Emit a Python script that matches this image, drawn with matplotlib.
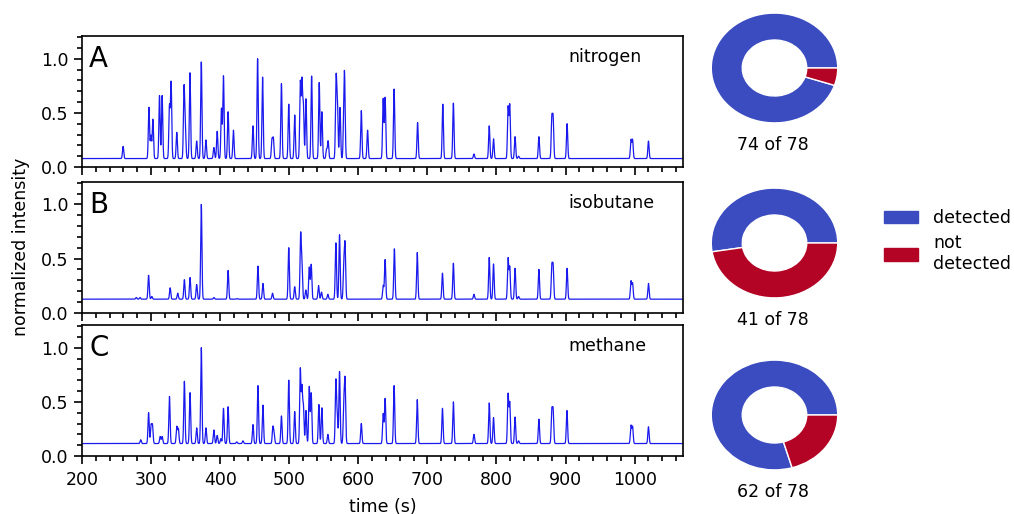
import numpy as np
import matplotlib
matplotlib.use('Agg')
import matplotlib.pyplot as plt
from matplotlib.patches import Patch
from matplotlib.ticker import MultipleLocator

# peak retention times (s) and apex heights
n2_times = [259.5, 296.9, 299.8, 302.6, 312.2, 316.0, 326.6, 329.0, 337.2, 347.7,
            349.6, 356.3, 366.0, 372.7, 379.4, 390.9, 395.7, 401.9, 404.8, 411.5,
            419.2, 447.5, 454.2, 461.4, 475.0, 477.0, 488.7, 499.3, 507.9, 516.0,
            518.4, 520.5, 524.2, 532.4, 543.4, 547.2, 554.0, 556.3, 567.8, 569.7,
            573.5, 579.0, 580.2, 604.3, 613.4, 636.0, 638.8, 651.8, 685.8, 722.3,
            737.6, 767.4, 789.5, 795.7, 816.8, 819.2, 826.9, 832.0, 861.4, 880.1,
            882.0, 902.2, 994.7, 997.0, 1020.0]
n2_apex = [0.19, 0.55, 0.29, 0.44, 0.66, 0.66, 0.56, 0.78, 0.32, 0.73,
           0.34, 0.87, 0.24, 0.97, 0.25, 0.18, 0.33, 0.54, 0.84, 0.51,
           0.34, 0.38, 1.00, 0.83, 0.25, 0.26, 0.77, 0.58, 0.48, 0.78,
           0.78, 0.55, 0.63, 0.84, 0.78, 0.51, 0.16, 0.24, 0.80, 0.58,
           0.55, 0.45, 0.70, 0.52, 0.34, 0.63, 0.64, 0.72, 0.41, 0.58,
           0.59, 0.12, 0.38, 0.26, 0.55, 0.57, 0.28, 0.10, 0.28, 0.44,
           0.44, 0.40, 0.25, 0.25, 0.24]
n2_base = 0.078

ib_times = [278.6, 284.0, 296.4, 301.0, 327.6, 338.6, 348.2, 356.4, 366.0, 372.7,
            391.0, 411.5, 424.7, 454.7, 461.9, 475.8, 499.3, 507.9, 516.5, 518.4,
            524.0, 529.0, 531.8, 542.4, 546.7, 555.9, 567.5, 572.8, 579.0, 580.8,
            636.0, 638.8, 652.2, 685.3, 721.8, 737.6, 767.4, 789.5, 795.7, 816.8,
            819.2, 826.9, 832.0, 861.4, 880.1, 882.0, 902.2, 994.7, 997.0, 1020.0]
ib_apex = [0.14, 0.14, 0.345, 0.15, 0.23, 0.18, 0.305, 0.325, 0.26, 1.00,
           0.14, 0.39, 0.13, 0.43, 0.27, 0.18, 0.60, 0.24, 0.71, 0.43,
           0.21, 0.42, 0.445, 0.25, 0.19, 0.17, 0.645, 0.72, 0.43, 0.615,
           0.25, 0.49, 0.59, 0.555, 0.365, 0.457, 0.17, 0.51, 0.45, 0.50,
           0.42, 0.41, 0.15, 0.40, 0.42, 0.42, 0.41, 0.29, 0.27, 0.27]
ib_base = 0.125

me_times = [285.0, 296.4, 300.0, 302.0, 313.2, 316.0, 326.6, 337.2, 339.5, 348.2,
            356.4, 366.0, 372.7, 379.4, 390.9, 395.7, 401.0, 404.8, 411.5, 424.0,
            433.0, 447.5, 454.7, 461.9, 476.3, 478.0, 488.7, 499.3, 507.9, 516.0,
            518.4, 520.5, 524.2, 529.0, 531.8, 542.9, 547.2, 555.9, 567.5, 569.5,
            572.8, 579.0, 580.8, 604.3, 636.0, 638.8, 651.8, 685.3, 721.8, 737.6,
            767.4, 789.5, 795.7, 816.8, 819.2, 826.9, 832.0, 861.4, 880.1, 882.0,
            902.0, 994.7, 997.0, 1020.0]
me_apex = [0.15, 0.40, 0.28, 0.28, 0.18, 0.18, 0.55, 0.27, 0.25, 0.69,
           0.585, 0.26, 1.00, 0.26, 0.24, 0.19, 0.16, 0.44, 0.455, 0.13,
           0.14, 0.29, 0.65, 0.47, 0.26, 0.20, 0.37, 0.70, 0.41, 0.80,
           0.62, 0.45, 0.42, 0.64, 0.58, 0.475, 0.445, 0.20, 0.69, 0.36,
           0.78, 0.46, 0.68, 0.30, 0.39, 0.53, 0.65, 0.52, 0.44, 0.50,
           0.20, 0.49, 0.355, 0.57, 0.49, 0.36, 0.14, 0.34, 0.41, 0.41,
           0.42, 0.28, 0.27, 0.27]
me_base = 0.115

gases = ['nitrogen', 'isobutane', 'methane']
letters = ['A', 'B', 'C']
detected = [74, 41, 62]
total = 78

blue = '#3b4cc0'
red = '#b40426'
fs = 12.5


def trace(t, times, apex, base, sigma=0.9):
    y = np.full_like(t, base)
    for tc, h in zip(times, apex):
        y += (h - base) * np.exp(-0.5 * ((t - tc) / sigma) ** 2)
    return y


t = np.arange(200, 1070, 0.1)
series = [(n2_times, n2_apex, n2_base),
          (ib_times, ib_apex, ib_base),
          (me_times, me_apex, me_base)]

fig = plt.figure(figsize=(10.14, 5.14), dpi=100)

left, width = 82 / 1014, 601 / 1014
tops = [36, 181.7, 325]
h = 131 / 514
axes = []
for i, (times, apex, base) in enumerate(series):
    bottom = 1 - tops[i] / 514 - h
    ax = fig.add_axes([left, bottom, width, h])
    ax.plot(t, trace(t, times, apex, base), color='#1a1aee', lw=0.9)
    ax.set_xlim(200, 1070)
    ax.set_ylim(0, 1.21)
    ax.xaxis.set_major_locator(MultipleLocator(100))
    ax.xaxis.set_minor_locator(MultipleLocator(20))
    ax.yaxis.set_major_locator(MultipleLocator(0.5))
    ax.yaxis.set_minor_locator(MultipleLocator(0.1))
    ax.tick_params(which='both', direction='out', labelsize=fs, width=1.2)
    ax.tick_params(which='major', length=6)
    ax.tick_params(which='minor', length=3.5)
    ax.tick_params(axis='x', pad=5)
    for sp in ax.spines.values():
        sp.set_linewidth(1.2)
    if i < 2:
        ax.tick_params(labelbottom=False)
    ax.text(0.012, 0.93, letters[i], transform=ax.transAxes, fontsize=20,
            va='top', ha='left')
    ax.text(0.81, 0.84, gases[i], transform=ax.transAxes, fontsize=fs,
            va='center', ha='left')
    axes.append(ax)

axes[2].set_xlabel('time (s)', fontsize=fs, labelpad=6)
axes[1].set_ylabel('normalized intensity', fontsize=fs, labelpad=8)

# donuts
centers = [68, 243, 415]
for i, n in enumerate(detected):
    cy = centers[i]
    pax = fig.add_axes([710 / 1014, 1 - (cy + 56) / 514, 129 / 1014, 112 / 514])
    pax.pie([n, total - n], colors=[blue, red], startangle=0, counterclock=True,
            radius=1.0, wedgeprops=dict(width=0.49, edgecolor='white', linewidth=1))
    pax.set_aspect('auto')
    pax.set_xlim(-1.02, 1.02)
    pax.set_ylim(-1.02, 1.02)
    fig.text(773 / 1014, 1 - (cy + 77) / 514, '%d of %d' % (n, total),
             ha='center', va='center', fontsize=fs)

handles = [Patch(color=blue, label='detected'), Patch(color=red, label='not\ndetected')]
fig.legend(handles=handles, loc='center left', bbox_to_anchor=(868 / 1014, 1 - 241 / 514),
           frameon=False, fontsize=fs, handlelength=2.0, handleheight=0.75,
           labelspacing=0.4, handletextpad=0.85)

fig.savefig('out.png', dpi=100)
